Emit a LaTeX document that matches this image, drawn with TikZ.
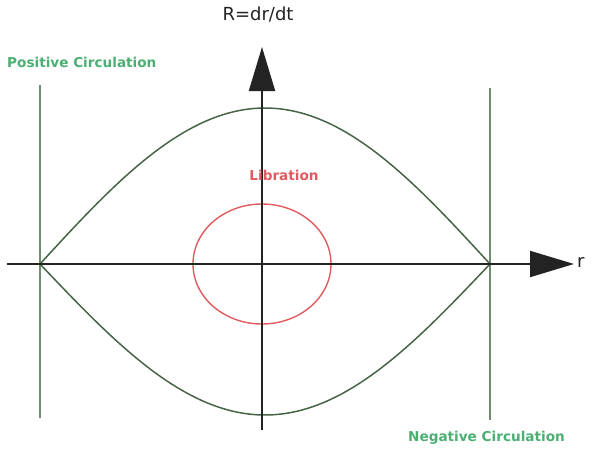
\documentclass[tikz,border=0pt]{standalone}
\usepackage{fontspec}
\setmainfont{DejaVu Sans}
\usepackage{xcolor}
\usepackage{tikz}
\usetikzlibrary{arrows.meta,positioning,calc}

\definecolor{circgreen}{RGB}{75,175,115}
\definecolor{curvegreen}{RGB}{70,100,70}
\definecolor{linegreen}{RGB}{110,140,110}
\definecolor{librared}{RGB}{225,90,95}
\definecolor{axisgray}{RGB}{35,35,35}

\begin{document}
\begin{tikzpicture}[
  x=1pt, y=-1pt,
  axis/.style={-{Triangle[length=44pt,width=26pt]}, line width=2pt, draw=axisgray},
  bound/.style={line width=1.8pt, draw=linegreen},
  separatrix/.style={line width=1.5pt, draw=curvegreen},
  label/.style={font=\fontsize{13.6}{16}\selectfont\bfseries, inner sep=1pt},
  axislabel/.style={font=\fontsize{18}{20}\selectfont, inner sep=1pt, text=axisgray},
]
  \useasboundingbox (0,0) rectangle (596,452);

  % Reference points
  \coordinate (o) at (262,264);
  \coordinate (xs) at (7,264);
  \coordinate (xe) at (574,264);
  \coordinate (ys) at (262,430);
  \coordinate (ye) at (262,47);

  % Circulation boundaries
  \coordinate (lt) at (40,85);
  \coordinate (lb) at (40,418);
  \coordinate (rt) at (490,88);
  \coordinate (rb) at (490,420);
  \draw[bound] (lt) -- (lb);
  \draw[bound] (rt) -- (rb);

  % Separatrix
  \draw[separatrix, domain=40:490, samples=80]
    plot (\x, {264-156*cos(0.4*(\x-265))});
  \draw[separatrix, domain=40:490, samples=80]
    plot (\x, {264+151*cos(0.4*(\x-265))});

  % Libration orbit
  \draw[librared, line width=1.4pt] (o) ellipse [x radius=69, y radius=60];

  % Axes
  \draw[axis] (xs) -- (xe);
  \draw[axis] (ys) -- (ye);

  % Labels
  \node[axislabel, anchor=west] (rlab) at (576,262) {r};
  \node[axislabel] (Rlab) at (258,14) {R=dr/dt};
  \node[label, text=circgreen, anchor=west] (pos) at (6,62) {Positive Circulation};
  \node[label, text=circgreen, anchor=east] (neg) at (566,438) {Negative Circulation};
  \node[label, text=librared] (lib) at (284,175) {Libration};
\end{tikzpicture}
\end{document}
